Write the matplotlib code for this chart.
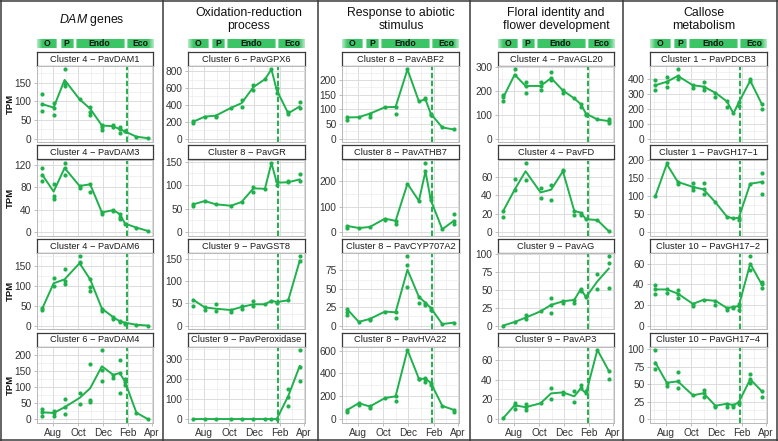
import numpy as np
import pandas as pd
import matplotlib
matplotlib.use("Agg")
import matplotlib.pyplot as plt
import matplotlib.dates as mdates
from matplotlib.colors import to_rgb
from matplotlib.lines import Line2D
from matplotlib.ticker import AutoMinorLocator

# ---------------------------------------------------------------------------
# Data (TPM)
# ---------------------------------------------------------------------------
sample_dates = pd.to_datetime([
    "2015-07-05", "2015-08-02", "2015-08-29", "2015-10-05", "2015-10-31",
    "2015-11-29", "2015-12-27", "2016-01-12", "2016-01-25", "2016-02-22",
    "2016-03-21",
])
release_date = pd.Timestamp("2016-01-29")

phase_names = ["O", "P", "Endo", "Eco"]
phase_start = pd.to_datetime(["2015-06-21", "2015-08-19", "2015-09-25", "2016-01-29"])
phase_end = pd.to_datetime(["2015-08-10", "2015-09-18", "2016-01-22", "2016-04-04"])

column_titles = [
    r"$\mathit{DAM}$ genes",
    "Oxidation-reduction\nprocess",
    "Response to abiotic\nstimulus",
    "Floral identity and\nflower development",
    "Callose\nmetabolism",
]

# DAM genes
dam1_mean = [92, 83, 157, 105, 80, 35, 33, 25, 19, 5, 1]
dam1_reps = [[119, 92, 74], [95, 83, 62], [185, 150, 141], [105], [85, 71, 64],
             [36, 32, 23], [36, 30], [30, 25, 16], [19, 21], [5], [1]]
dam1_ticks = [0, 50, 100, 150]

dam3_mean = [102, 72, 114, 82, 85, 35, 39, 32, 15, 8, 2]
dam3_reps = [[114, 102, 90], [85, 65, 59], [123, 114, 102], [82, 78], [85, 72],
             [35, 32], [39, 37], [32, 26, 23], [15], [8], [2]]
dam3_ticks = [0, 40, 80, 120]

dam6_mean = [43, 107, 117, 158, 117, 43, 21, 11, 7, 2, 0]
dam6_reps = [[45, 40], [120, 100], [143, 112, 105], [175, 161, 158], [117, 98, 88],
             [43, 36], [21, 17], [11, 9], [7, 3], [2], [0]]
dam6_ticks = [0, 50, 100, 150]

dam4_mean = [21, 19, 37, 66, 96, 165, 138, 144, 117, 20, 0]
dam4_reps = [[30, 21, 11], [24, 19, 11], [64, 37, 16], [82, 48], [173, 58, 53],
             [216, 152, 120], [138, 128], [186, 144, 80], [126, 117, 106], [20], [0]]
dam4_ticks = [0, 50, 100, 150, 200]

# Oxidation-reduction process
gpx6_mean = [200, 260, 272, 364, 420, 612, 704, 820, 572, 300, 380]
gpx6_reps = [[210, 190], [260], [272, 258], [364], [452, 380], [632, 580], [704],
             [820], [604, 540], [312, 290], [432, 364]]
gpx6_ticks = [0, 200, 400, 600, 800]

gr_mean = [59, 66, 59, 56, 64, 93, 92, 147, 105, 106, 112]
gr_reps = [[59, 56], [66], [59], [56], [64], [96, 86], [92], [147], [109, 100],
           [106, 109], [124, 109]]
gr_ticks = [0, 50, 100, 150]

gst8_mean = [58, 41, 38, 35, 42, 48, 48, 56, 53, 57, 146]
gst8_reps = [[58, 45], [41, 36], [48, 33], [35, 31], [45, 38], [55, 44], [48], [56],
             [53, 50], [57], [156, 146]]
gst8_ticks = [0, 50, 100, 150]

perox_mean = [0, 0, 0, 0, 0, 0, 0, 0, 0, 115, 266]
perox_reps = [[0], [0], [0], [0], [0], [0], [0], [0], [0], [152, 110, 68],
              [347, 260, 190]]
perox_ticks = [0, 100, 200, 300]

# Response to abiotic stimulus
abf2_mean = [72, 73, 85, 107, 108, 236, 127, 134, 85, 38, 31]
abf2_reps = [[72, 65], [73], [85, 72], [107], [108, 85], [236], [127], [140, 134],
             [85, 79], [38], [31]]
abf2_ticks = [0, 50, 100, 150, 200]

athb7_mean = [24, 16, 20, 53, 44, 191, 123, 240, 127, 11, 44]
athb7_reps = [[24, 15], [16], [20], [53, 47], [44, 31], [191], [123], [273, 240],
              [140, 127], [11], [73, 44, 31]]
athb7_ticks = [0, 100, 200]

cyp_mean = [22, 5, 9, 19, 18, 76, 39, 31, 24, 2, 4]
cyp_reps = [[22, 19, 14], [5], [9, 7], [19], [18, 10], [94, 83, 53], [39, 31],
            [31, 28], [24, 21], [2], [4]]
cyp_ticks = [0, 25, 50, 75]

hva22_mean = [80, 139, 110, 184, 199, 605, 353, 353, 318, 116, 80]
hva22_reps = [[80, 65], [139, 125], [110, 95], [184], [199, 154], [605], [353, 347],
              [362, 353, 326], [318, 297], [116], [80, 65]]
hva22_ticks = [0, 200, 400, 600]

# Floral identity and flower development
agl20_mean = [172, 267, 220, 220, 253, 201, 168, 144, 104, 80, 73]
agl20_reps = [[182, 172, 158], [289, 267], [235, 220, 189], [235, 220, 201],
              [277, 253, 246], [201, 192], [168], [144, 132], [104, 97], [80],
              [82, 73, 64]]
agl20_ticks = [0, 100, 200, 300]

fd_mean = [23, 46, 66, 43, 46, 66, 23, 21, 14, 13, 1]
fd_reps = [[23, 16], [58, 46], [75, 56], [48, 37], [51, 35], [67, 66], [23, 18],
           [21, 18], [14], [13], [1]]
fd_ticks = [0, 20, 40, 60]

ag_mean = [0, 5, 11, 20, 29, 34, 36, 51, 40, 62, 80]
ag_reps = [[0], [5], [15, 9], [20], [39, 29, 18], [34, 31], [36, 31], [51, 48],
           [42, 40], [72, 52], [97, 88, 53]]
ag_ticks = [0, 25, 50, 75, 100]

ap3_mean = [1, 14, 12, 16, 26, 27, 23, 31, 26, 70, 49]
ap3_reps = [[1], [16, 14, 10], [15, 12, 9], [16], [31, 20], [27, 25], [28, 17],
            [35, 31], [28, 26], [70], [49, 41]]
ap3_ticks = [0, 20, 40, 60]

# Callose metabolism
pdcb3_mean = [360, 384, 423, 360, 351, 309, 251, 170, 244, 391, 235]
pdcb3_reps = [[395, 360, 325], [419, 384, 349], [467, 423, 400], [360, 344],
              [379, 351, 326], [309, 279], [251, 216], [170], [244, 221],
              [400, 391], [235, 198]]
pdcb3_ticks = [0, 100, 200, 300, 400]

gh171_mean = [100, 190, 140, 126, 119, 83, 43, 38, 40, 135, 140]
gh171_reps = [[100], [193], [140, 133], [136, 126, 117], [138, 119, 107], [83], [43],
              [38], [40, 33], [135], [165, 140, 107]]
gh171_ticks = [0, 50, 100, 150, 200]

gh172_mean = [35, 35, 31, 21, 25, 24, 17, 18, 19, 60, 40]
gh172_reps = [[39, 35, 31], [35, 32], [34, 31, 27], [21, 19], [25], [24, 20],
              [17, 15], [18, 17], [21, 19, 15], [67, 60, 54], [42, 40, 36]]
gh172_ticks = [0, 20, 40, 60]

gh174_mean = [81, 52, 54, 34, 37, 19, 22, 20, 24, 57, 40]
gh174_reps = [[99, 81, 71], [52, 48], [68, 54, 45], [34], [42, 37, 31], [19, 17],
              [22, 17], [20, 17], [24, 21], [65, 57, 52], [40, 31]]
gh174_ticks = [0, 25, 50, 75, 100]

# one list per column, four facets each: (strip label, mean, replicates, y ticks)
columns = [
    [("Cluster 4 \u2212 PavDAM1", dam1_mean, dam1_reps, dam1_ticks),
     ("Cluster 4 \u2212 PavDAM3", dam3_mean, dam3_reps, dam3_ticks),
     ("Cluster 4 \u2212 PavDAM6", dam6_mean, dam6_reps, dam6_ticks),
     ("Cluster 6 \u2212 PavDAM4", dam4_mean, dam4_reps, dam4_ticks)],
    [("Cluster 6 \u2212 PavGPX6", gpx6_mean, gpx6_reps, gpx6_ticks),
     ("Cluster 8 \u2212 PavGR", gr_mean, gr_reps, gr_ticks),
     ("Cluster 9 \u2212 PavGST8", gst8_mean, gst8_reps, gst8_ticks),
     ("Cluster 9 \u2212 PavPeroxidase", perox_mean, perox_reps, perox_ticks)],
    [("Cluster 8 \u2212 PavABF2", abf2_mean, abf2_reps, abf2_ticks),
     ("Cluster 8 \u2212 PavATHB7", athb7_mean, athb7_reps, athb7_ticks),
     ("Cluster 8 \u2212 PavCYP707A2", cyp_mean, cyp_reps, cyp_ticks),
     ("Cluster 8 \u2212 PavHVA22", hva22_mean, hva22_reps, hva22_ticks)],
    [("Cluster 4 \u2212 PavAGL20", agl20_mean, agl20_reps, agl20_ticks),
     ("Cluster 4 \u2212 PavFD", fd_mean, fd_reps, fd_ticks),
     ("Cluster 9 \u2212 PavAG", ag_mean, ag_reps, ag_ticks),
     ("Cluster 9 \u2212 PavAP3", ap3_mean, ap3_reps, ap3_ticks)],
    [("Cluster 1 \u2212 PavPDCB3", pdcb3_mean, pdcb3_reps, pdcb3_ticks),
     ("Cluster 1 \u2212 PavGH17\u22121", gh171_mean, gh171_reps, gh171_ticks),
     ("Cluster 10 \u2212 PavGH17\u22122", gh172_mean, gh172_reps, gh172_ticks),
     ("Cluster 10 \u2212 PavGH17\u22124", gh174_mean, gh174_reps, gh174_ticks)],
]

# ---------------------------------------------------------------------------
# Layout (pixel positions of the original 778x441 picture)
# ---------------------------------------------------------------------------
W, H = 778, 441
col_left = [37, 188, 342, 498, 650]
col_right = [153, 305, 459, 614, 767]
title_x = [92, 249, 401, 556, 704]
separators = [163, 318, 470, 623]
strip_top = [52, 145.5, 239, 332.5]
STRIP_H, PANEL_H = 14, 76
PHASE_Y = (39, 48)

GREEN = "#1fb14c"
BOX_GREEN = "#3cc566"
TXT = "#333333"

plt.rcParams.update({
    "font.family": ["Liberation Sans", "DejaVu Sans"],
    "mathtext.fontset": "custom",
    "mathtext.rm": "Liberation Sans",
    "mathtext.it": "Liberation Sans:italic",
})


def frac(x0, y0, x1, y1):
    """Pixel box (top-left origin) -> figure fraction rect."""
    return [x0 / W, 1 - y1 / H, (x1 - x0) / W, (y1 - y0) / H]


xnum = mdates.date2num(sample_dates.values)
span = xnum[-1] - xnum[0]
xlim = (xnum[0] - 0.05 * span, xnum[-1] + 0.05 * span)
rel = mdates.date2num(np.datetime64(release_date))

fig = plt.figure(figsize=(W / 100, H / 100), dpi=100)


def phase_bar(c):
    ax = fig.add_axes(frac(col_left[c], PHASE_Y[0], col_right[c], PHASE_Y[1]))
    ax.axis("off")
    rgb = to_rgb(BOX_GREEN)
    starts = mdates.date2num(phase_start.values)
    ends = mdates.date2num(phase_end.values)
    for i, (name, x0, x1) in enumerate(zip(phase_names, starts, ends)):
        xs = np.linspace(x0, x1, 200)
        fl = 14 if i == 0 else 2.5
        fr = 14 if i == len(phase_names) - 1 else 2.5
        alpha = np.minimum(np.clip((xs - x0) / fl, 0, 1), np.clip((x1 - xs) / fr, 0, 1))
        alpha = 0.3 + 0.7 * alpha
        img = np.zeros((1, len(xs), 4))
        img[..., :3] = rgb
        img[..., 3] = alpha
        ax.imshow(img, extent=(x0, x1, 0, 1), aspect="auto",
                  interpolation="bilinear", zorder=1)
        ax.text((x0 + x1) / 2, 0.45, name, ha="center", va="center",
                fontsize=6.2, fontweight="bold", color="#111111", zorder=2)
    ax.set_xlim(xlim)
    ax.set_ylim(0, 1)


def facet(c, r, label, mean, reps, ticks):
    top = strip_top[r]
    # strip
    sax = fig.add_axes(frac(col_left[c], top, col_right[c], top + STRIP_H))
    sax.set_xticks([])
    sax.set_yticks([])
    for sp in sax.spines.values():
        sp.set_color("#3a3a3a")
        sp.set_linewidth(0.9)
    sax.text(0.5, 0.48, label, ha="center", va="center", fontsize=6.7,
             color="#1a1a1a", transform=sax.transAxes)

    ax = fig.add_axes(frac(col_left[c], top + STRIP_H, col_right[c],
                           top + STRIP_H + PANEL_H))
    allv = list(mean) + [v for rs in reps for v in rs]
    lo, hi = min(0, min(allv)), max(allv)
    pad = 0.05 * (hi - lo)
    ax.set_yticks(ticks)
    ax.yaxis.set_minor_locator(AutoMinorLocator(2))
    ax.xaxis.set_major_locator(mdates.MonthLocator(bymonth=[2, 4, 8, 10, 12]))
    ax.xaxis.set_minor_locator(mdates.MonthLocator(bymonth=[1, 3, 7, 9, 11]))
    ax.xaxis.set_major_formatter(mdates.DateFormatter("%b"))
    ax.set_xlim(xlim)
    ax.set_ylim(lo - pad, hi + pad)

    ax.grid(which="major", color="#dcdcdc", linewidth=0.7)
    ax.grid(which="minor", color="#ececec", linewidth=0.5)
    ax.set_axisbelow(True)
    for sp in ax.spines.values():
        sp.set_color("#b8b8b8")
        sp.set_linewidth(0.7)
    ax.tick_params(axis="y", which="major", length=2.5, width=0.6, color="#b3b3b3",
                   labelsize=7.3, labelcolor=TXT, pad=1.5)
    ax.tick_params(axis="both", which="minor", length=0)
    bottom = r == len(strip_top) - 1
    ax.tick_params(axis="x", which="major", length=2.5 if bottom else 0, width=0.6,
                   color="#b3b3b3", labelsize=7.3, labelcolor=TXT, pad=1.5,
                   labelbottom=bottom)

    ax.axvline(rel, color=GREEN, linewidth=1.4, linestyle=(0, (2.8, 1.3)), zorder=2)
    ax.plot(xnum, mean, color=GREEN, linewidth=1.4, zorder=3)
    for xi, rs in zip(xnum, reps):
        ax.plot([xi] * len(rs), rs, "o", color=GREEN, markersize=3.0,
                markeredgewidth=0, zorder=4)

    if c == 0:
        ymid = 1 - (top + STRIP_H + PANEL_H / 2) / H
        fig.text(10 / W, ymid, "TPM", rotation=90, ha="center", va="center",
                 fontsize=6.8, fontweight="bold", color="#111111")


for c, col in enumerate(columns):
    fig.text(title_x[c] / W, 1 - 19.5 / H, column_titles[c], ha="center",
             va="center", fontsize=8.8, color="#111111", linespacing=1.1)
    phase_bar(c)
    for r, (label, mean, reps, ticks) in enumerate(col):
        facet(c, r, label, mean, reps, ticks)

# frame and column separators
frame_kw = dict(color="#3a3a3a", linewidth=1.1, transform=fig.transFigure)
for x in separators:
    fig.add_artist(Line2D([x / W, x / W], [0, 1], **frame_kw))
fig.add_artist(Line2D([0.8 / W, 0.8 / W], [0, 1], **frame_kw))
fig.add_artist(Line2D([1 - 0.8 / W, 1 - 0.8 / W], [0, 1], **frame_kw))
fig.add_artist(Line2D([0, 1], [1 - 0.8 / H, 1 - 0.8 / H], **frame_kw))
fig.add_artist(Line2D([0, 1], [0.8 / H, 0.8 / H], **frame_kw))

fig.savefig("out.png", dpi=100)
